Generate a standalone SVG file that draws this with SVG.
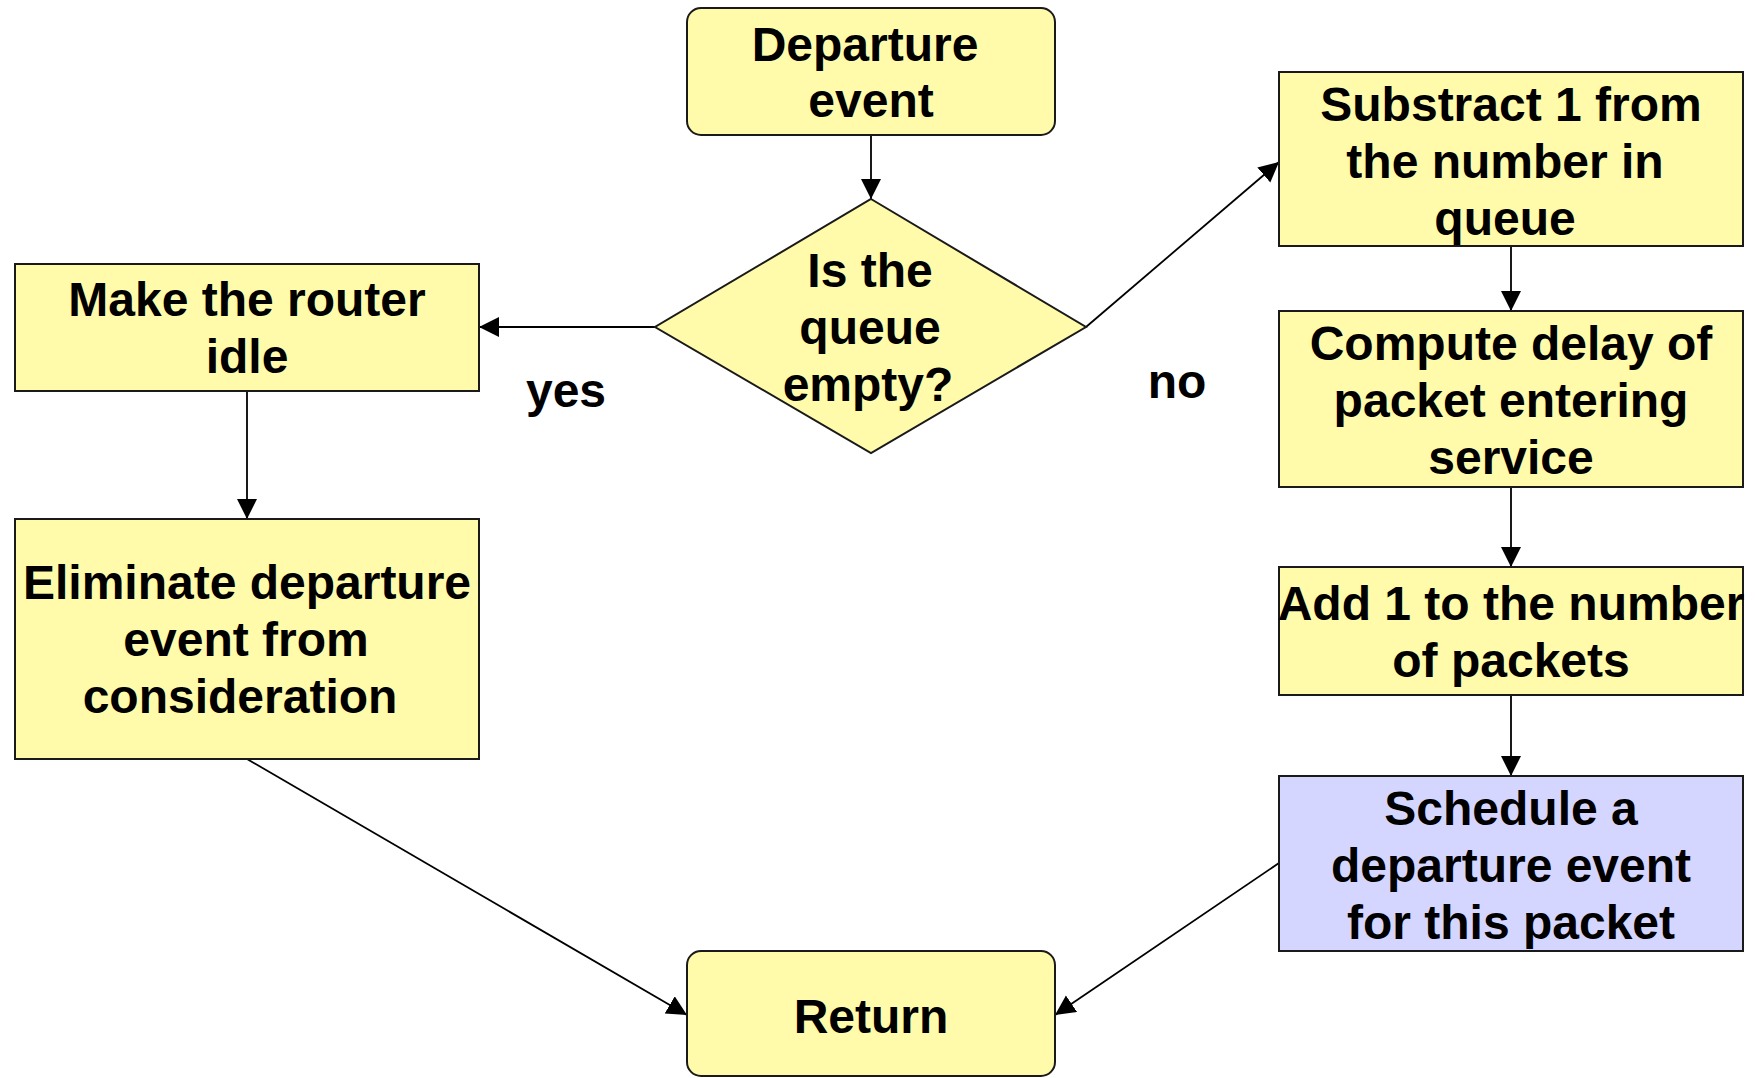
<svg xmlns="http://www.w3.org/2000/svg" width="1755" height="1078" viewBox="0 0 1755 1078">
  <defs>
    <marker id="arrow" markerUnits="userSpaceOnUse" markerWidth="22" markerHeight="22" refX="20" refY="10" orient="auto">
      <path d="M0,0 L20,10 L0,20 z" fill="#000"/>
    </marker>
    <style>
      .box { fill: #FFFBAA; stroke: #1a1a1a; stroke-width: 2; }
      .blue { fill: #D5D6FF; stroke: #1a1a1a; stroke-width: 2; }
      .label { font-family: "Liberation Sans", Arial, sans-serif; font-weight: bold; font-size: 48px; fill: #000; text-anchor: middle; }
      .edge { fill: none; stroke: #000; stroke-width: 1.8; marker-end: url(#arrow); }
    </style>
  </defs>
  <rect width="1755" height="1078" fill="#fff"/>

  <!-- connectors -->
  <g id="connectors">
    <path class="edge" d="M871,135 L871,199"/>
    <path class="edge" d="M655,327 L479,327"/>
    <path class="edge" d="M1086,327 L1279,162"/>
    <path class="edge" d="M247,391 L247,519"/>
    <path class="edge" d="M1511,246 L1511,311"/>
    <path class="edge" d="M1511,487 L1511,567"/>
    <path class="edge" d="M1511,695 L1511,776"/>
    <path class="edge" d="M247,759 L687,1015"/>
    <path class="edge" d="M1279,863 L1055,1015"/>
  </g>

  <g id="departure-event">
    <rect class="box" x="687" y="8" width="368" height="127" rx="14"/>
    <text class="label" x="865" y="61">Departure</text>
    <text class="label" x="871" y="117">event</text>
  </g>

  <g id="queue-empty">
    <polygon class="box" points="871,199 1086,327 871,453 655,327"/>
    <text class="label" x="870" y="287">Is the</text>
    <text class="label" x="870" y="344">queue</text>
    <text class="label" x="868" y="401">empty?</text>
  </g>

  <g id="router-idle">
    <rect class="box" x="15" y="264" width="464" height="127"/>
    <text class="label" x="247" y="316">Make the router</text>
    <text class="label" x="247" y="373">idle</text>
  </g>

  <g id="eliminate-event">
    <rect class="box" x="15" y="519" width="464" height="240"/>
    <text class="label" x="247" y="599">Eliminate departure</text>
    <text class="label" x="246" y="656">event from</text>
    <text class="label" x="240" y="713">consideration</text>
  </g>

  <g id="subtract-queue">
    <rect class="box" x="1279" y="72" width="464" height="174"/>
    <text class="label" x="1511" y="121">Substract 1 from</text>
    <text class="label" x="1505" y="178">the number in</text>
    <text class="label" x="1505" y="235">queue</text>
  </g>

  <g id="compute-delay">
    <rect class="box" x="1279" y="311" width="464" height="176"/>
    <text class="label" x="1511" y="360">Compute delay of</text>
    <text class="label" x="1511" y="417">packet entering</text>
    <text class="label" x="1511" y="474">service</text>
  </g>

  <g id="add-packets">
    <rect class="box" x="1279" y="567" width="464" height="128"/>
    <text class="label" x="1511" y="620">Add 1 to the number</text>
    <text class="label" x="1511" y="677">of packets</text>
  </g>

  <g id="schedule-departure">
    <rect class="blue" x="1279" y="776" width="464" height="175"/>
    <text class="label" x="1511" y="825">Schedule a</text>
    <text class="label" x="1511" y="882">departure event</text>
    <text class="label" x="1511" y="939">for this packet</text>
  </g>

  <g id="return">
    <rect class="box" x="687" y="951" width="368" height="125" rx="14"/>
    <text class="label" x="871" y="1033">Return</text>
  </g>

  <g id="branch-labels">
    <text class="label" x="566" y="407">yes</text>
    <text class="label" x="1177" y="398">no</text>
  </g>
</svg>
